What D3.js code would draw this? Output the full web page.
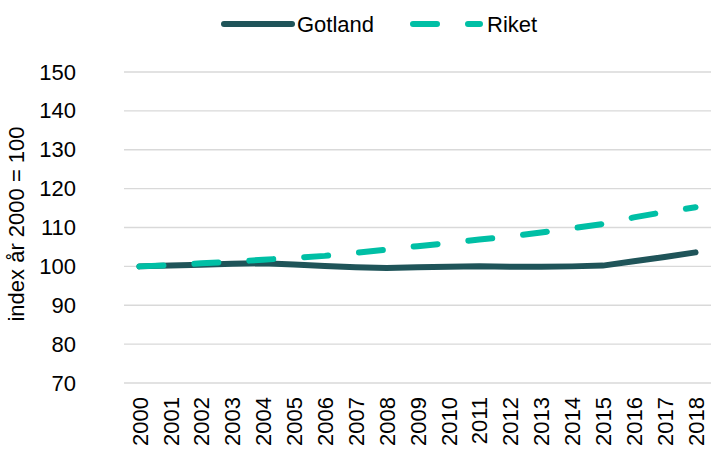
<!DOCTYPE html>
<html>
<head>
<meta charset="utf-8">
<script src="https://cdn.jsdelivr.net/npm/d3@7"></script>
<style>
  body { margin: 0; background: #fff; }
  text { font-family: "Liberation Sans", Arial, sans-serif; fill: #000; }
</style>
</head>
<body>
<div id="chart"></div>
<script>
// data
const years = ["2000","2001","2002","2003","2004","2005","2006","2007","2008","2009",
               "2010","2011","2012","2013","2014","2015","2016","2017","2018"];
const gotland = [100, 100.2, 100.4, 100.7, 100.8, 100.5, 100.1, 99.8, 99.6, 99.8,
                 99.9, 100.0, 99.9, 99.9, 100.0, 100.2, 101.3, 102.4, 103.6];
const riket = [100, 100.3, 100.8, 101.2, 101.7, 102.2, 102.7, 103.5, 104.3, 105.2,
               106.0, 106.9, 107.7, 108.7, 109.8, 110.9, 112.6, 114.0, 115.2];
const yTicks = [70, 80, 90, 100, 110, 120, 130, 140, 150];

const W = 712, H = 452;
const margin = { top: 72, right: 1, bottom: 69, left: 124 };
const width = W - margin.left - margin.right;
const height = H - margin.top - margin.bottom;

const svg = d3.select('#chart').append('svg')
    .attr('width', W)
    .attr('height', H);

const g = svg.append('g')
    .attr('transform', `translate(${margin.left}, ${margin.top})`);

const xScale = d3.scalePoint()
    .domain(years)
    .range([0, width])
    .padding(0.5);

const yScale = d3.scaleLinear()
    .domain([70, 150])
    .range([height, 0]);

// gridlines
g.append('g').attr('id', 'grid')
    .selectAll('line')
    .data(yTicks)
    .enter()
    .append('line')
    .attr('x1', 0)
    .attr('x2', width)
    .attr('y1', d => yScale(d))
    .attr('y2', d => yScale(d))
    .attr('stroke', '#d9d9d9')
    .attr('stroke-width', 1.3);

// y axis labels
const yAxis = d3.axisLeft(yScale).tickValues(yTicks).tickSize(0).tickPadding(48);
g.append('g').attr('id', 'yAxis').call(yAxis)
    .call(a => a.select('.domain').remove())
    .selectAll('text')
    .style('font-size', '22px')
    .attr('fill', '#000');

// x axis labels (rotated)
const xAxis = d3.axisBottom(xScale).tickSize(0).tickPadding(0);
g.append('g').attr('id', 'xAxis')
    .attr('transform', `translate(0, ${height})`)
    .call(xAxis)
    .call(a => a.select('.domain').remove())
    .selectAll('text')
    .style('font-size', '22px')
    .attr('fill', '#000')
    .attr('text-anchor', 'end')
    .attr('dy', '0.35em')
    .attr('transform', 'translate(0, 14) rotate(-90)');

// y axis title
svg.append('text')
    .attr('transform', 'translate(24, 224) rotate(-90)')
    .attr('text-anchor', 'middle')
    .style('font-size', '22px')
    .text('index år 2000 = 100');

const line = d3.line()
    .x((d, i) => xScale(years[i]))
    .y(d => yScale(d));

g.append('path')
    .datum(gotland)
    .attr('fill', 'none')
    .attr('stroke', '#1f5459')
    .attr('stroke-width', 6)
    .attr('stroke-linecap', 'round')
    .attr('d', line);

g.append('path')
    .datum(riket)
    .attr('fill', 'none')
    .attr('stroke', '#00bfa5')
    .attr('stroke-width', 6)
    .attr('stroke-linecap', 'round')
    .attr('stroke-dasharray', '24 31')
    .attr('d', line);

// legend
const legend = svg.append('g').attr('id', 'legend');
legend.append('line')
    .attr('x1', 224).attr('x2', 292).attr('y1', 24).attr('y2', 24)
    .attr('stroke', '#1f5459').attr('stroke-width', 6).attr('stroke-linecap', 'round');
legend.append('text')
    .attr('x', 297).attr('y', 24).attr('dy', '0.35em')
    .style('font-size', '22px')
    .text('Gotland');
legend.append('line')
    .attr('x1', 413).attr('x2', 480).attr('y1', 24).attr('y2', 24)
    .attr('stroke', '#00bfa5').attr('stroke-width', 6).attr('stroke-linecap', 'round')
    .attr('stroke-dasharray', '24 31');
legend.append('text')
    .attr('x', 487).attr('y', 24).attr('dy', '0.35em')
    .style('font-size', '22px')
    .text('Riket');
</script>
</body>
</html>
